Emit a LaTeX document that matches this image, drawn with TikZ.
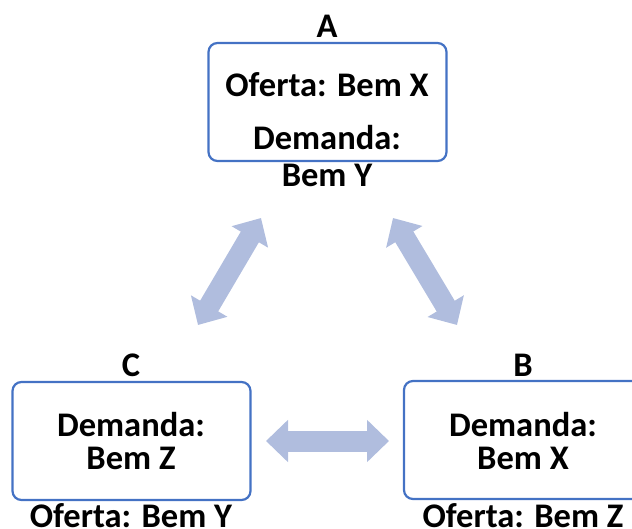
\documentclass[tikz,border=0pt]{standalone}
\usepackage{fontspec}
\setmainfont{Carlito}
\usetikzlibrary{arrows.meta}
\definecolor{boxblue}{RGB}{68,114,196}
\definecolor{arrowblue}{RGB}{176,189,222}
\tikzset{
  box/.style={draw=boxblue, line width=2.2pt, rounded corners=9pt, minimum width=238pt, minimum height=118pt, inner sep=0pt},
  txt/.style={anchor=base, inner sep=0pt, font=\fontsize{34.5}{40}\selectfont\bfseries},
  bigarrow/.style={draw=arrowblue, line width=21pt,
    {Triangle[width=41pt,length=22pt]}-{Triangle[width=41pt,length=22pt]}}
}
\begin{document}
\begin{tikzpicture}[x=1pt,y=-1pt]
\useasboundingbox (0,0) rectangle (632,529);
\clip (0,0) rectangle (632,529);
% boxes
\node[box] (boxA) at (327.5,102) {};
\node[box] (boxC) at (131.5,441) {};
\node[box] (boxB) at (523,440) {};
% labels
\node[txt] (labA) at (327,38) {A};
\node[txt] (a1) at (327,97) {Oferta: Bem X};
\node[txt] (a2) at (327,150) {Demanda:};
\node[txt] (a3) at (327,187) {Bem Y};
\node[txt] (labC) at (131,377) {C};
\node[txt] (c1) at (131,436) {Demanda:};
\node[txt] (c2) at (131,469) {Bem Z};
\node[txt] (c3) at (131,527) {Oferta: Bem Y};
\node[txt] (labB) at (523,377) {B};
\node[txt] (b1) at (523,436) {Demanda:};
\node[txt] (b2) at (523,469) {Bem X};
\node[txt] (b3) at (523,527) {Oferta: Bem Z};
% arrows
\coordinate (l1) at (198,325);
\coordinate (l2) at (261,218);
\coordinate (r1) at (393,218);
\coordinate (r2) at (457,325);
\coordinate (h1) at (266,441);
\coordinate (h2) at (389,441);
\draw[bigarrow] (l1) -- (l2);
\draw[bigarrow] (r1) -- (r2);
\draw[bigarrow] (h1) -- (h2);
\end{tikzpicture}
\end{document}
